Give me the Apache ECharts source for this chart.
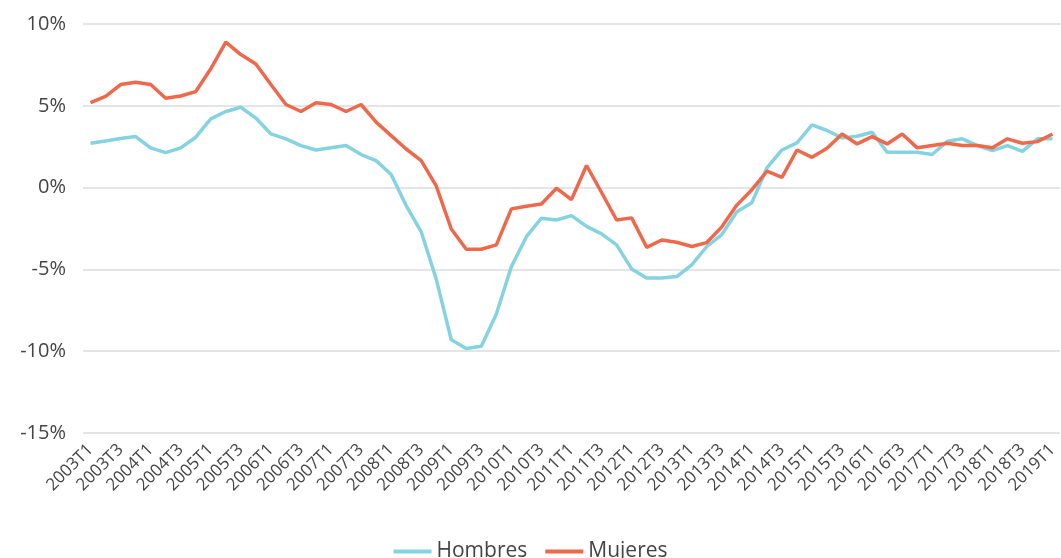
<!DOCTYPE html>
<html>
<head>
<meta charset="utf-8">
<script src="https://cdn.jsdelivr.net/npm/echarts@6/dist/echarts.min.js"></script>
<style>
html,body{margin:0;padding:0;background:#fff;}
#chart{width:1061px;height:558px;}
</style>
</head>
<body>
<div id="chart"></div>
<script>
// Quarterly categories 2003T1 .. 2019T1
const years = [2003,2004,2005,2006,2007,2008,2009,2010,2011,2012,2013,2014,2015,2016,2017,2018,2019];
const categories = [];
years.forEach(y => { for (let q = 1; q <= 4; q++) { if (y === 2019 && q > 1) break; categories.push(y + 'T' + q); } });

const hombres = [2.71,2.85,3.0,3.12,2.43,2.14,2.43,3.08,4.2,4.65,4.91,4.25,3.28,2.98,2.57,2.3,2.43,2.57,2.02,1.65,0.8,-1.1,-2.7,-5.59,-9.3,-9.83,-9.7,-7.73,-4.83,-3.0,-1.87,-1.98,-1.71,-2.37,-2.83,-3.5,-4.97,-5.52,-5.52,-5.44,-4.72,-3.6,-2.87,-1.48,-0.92,1.2,2.3,2.73,3.83,3.49,3.04,3.14,3.38,2.16,2.16,2.16,2.02,2.83,2.98,2.57,2.26,2.57,2.22,2.98,2.98];
const mujeres = [5.2,5.58,6.3,6.44,6.3,5.46,5.6,5.87,7.26,8.89,8.13,7.56,6.3,5.08,4.65,5.18,5.08,4.65,5.08,4.0,3.18,2.36,1.65,0.1,-2.53,-3.77,-3.77,-3.5,-1.3,-1.14,-1.0,-0.04,-0.73,1.35,-0.3,-1.98,-1.85,-3.65,-3.2,-3.34,-3.6,-3.36,-2.4,-1.07,-0.13,1.0,0.63,2.3,1.85,2.4,3.28,2.67,3.12,2.67,3.28,2.43,2.57,2.71,2.57,2.57,2.43,2.98,2.71,2.81,3.28];

const seriesNames = ['Hombres','Mujeres'];
const colors = ['#85d3e0','#f0684b'];

const chart = echarts.init(document.getElementById('chart'), null, {renderer:'canvas'});
const font = '"Open Sans", "Noto Sans", sans-serif';
chart.setOption({
  animation: false,
  color: colors,
  textStyle: {fontFamily: font},
  grid: {left: 83, right: 1, top: 24, bottom: 125, containLabel: false},
  legend: {
    data: seriesNames.map(n => ({name: n, icon: 'rect'})),
    top: 536, left: 'center',
    itemWidth: 38, itemHeight: 4, itemGap: 18,
    textStyle: {fontSize: 21, color: '#444', fontFamily: font}
  },
  xAxis: {
    type: 'category',
    data: categories,
    boundaryGap: true,
    axisLine: {show: false},
    axisTick: {show: false},
    axisLabel: {interval: 1, rotate: 45, fontSize: 17, color: '#444', margin: 14, fontFamily: font}
  },
  yAxis: {
    type: 'value',
    min: -15, max: 10, interval: 5,
    axisLine: {show: false},
    axisTick: {show: false},
    splitLine: {lineStyle: {color: '#dcdcdc', width: 1.5}},
    axisLabel: {formatter: '{value}%', fontSize: 20, color: '#444', margin: 17, fontFamily: font}
  },
  series: [
    {name: seriesNames[0], type: 'line', data: hombres, symbol: 'none', lineStyle: {width: 3.5, color: colors[0]}, itemStyle: {color: colors[0]}},
    {name: seriesNames[1], type: 'line', data: mujeres, symbol: 'none', lineStyle: {width: 3.5, color: colors[1]}, itemStyle: {color: colors[1]}}
  ]
});
</script>
</body>
</html>
